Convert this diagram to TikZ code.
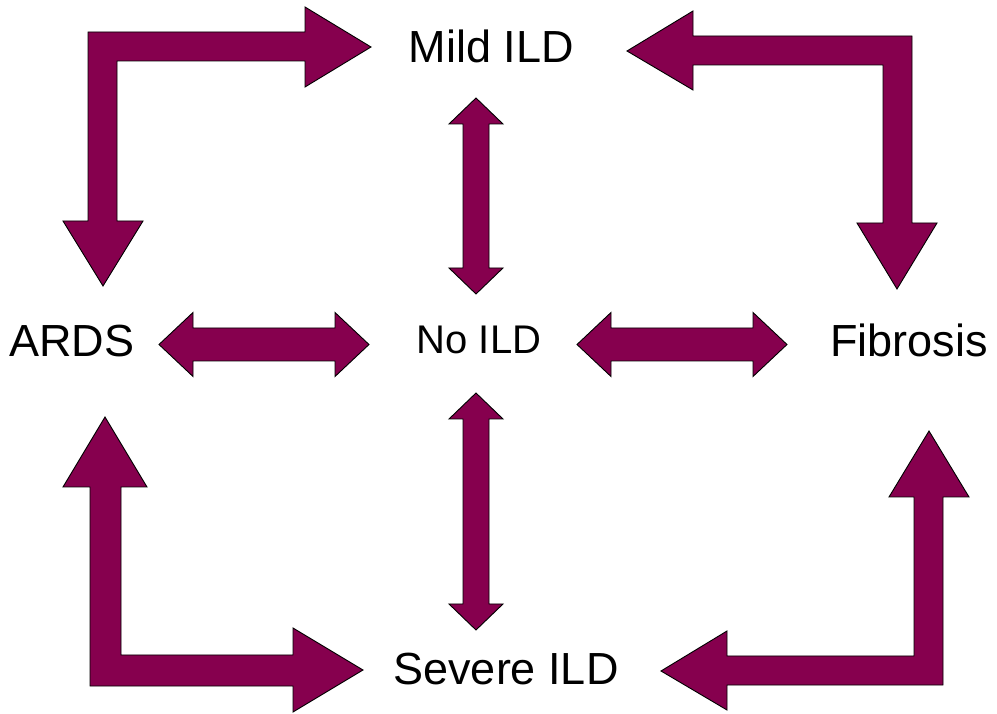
\documentclass[tikz,border=0pt]{standalone}
\usepackage{fontspec}
\setmainfont{Liberation Sans}
\usepackage{xcolor}
\usepackage{tikz}
\usetikzlibrary{calc}
\definecolor{ildred}{RGB}{134, 0, 78}

\tikzset{
  blockarrow/.style={fill=ildred, draw=black, line width=0.9pt, line join=miter},
  label/.style={inner sep=0pt, anchor=base, text=black},
}

\begin{document}
\begin{tikzpicture}[x=1pt, y=1pt]
        \useasboundingbox (0,0) rectangle (997,713);

        % States
        \node[label, font=\fontsize{45}{50}\selectfont] (mild) at (491.5,650) {Mild ILD};
        \node[label, font=\fontsize{45}{50}\selectfont] (severe) at (506,29) {Severe ILD};
        \node[label, font=\fontsize{45}{50}\selectfont] (ards) at (72,356) {ARDS};
        \node[label, font=\fontsize{45}{50}\selectfont] (fib) at (909,356) {Fibrosis};
        \node[label, font=\fontsize{40}{45}\selectfont] (noild) at (479,359) {No ILD};

        % Arrow tips
        \coordinate (ards-e) at (159,368.5);
        \coordinate (noild-w) at (369,368.5);
        \coordinate (noild-e) at (577,368.5);
        \coordinate (fib-w) at (787,368.5);
        \coordinate (mild-s) at (476,615);
        \coordinate (noild-n) at (476,419);
        \coordinate (noild-s) at (476,320);
        \coordinate (severe-n) at (476,83);

        % Horizontal double arrows
        \draw[blockarrow] (ards-e) -- ++(34,32) -- ++(0,-15.5) -- ($(noild-w)+(-34,16.5)$) -- ++(0,15.5) -- (noild-w)
              -- ++(-34,-32) -- ++(0,15.5) -- ($(ards-e)+(34,-16.5)$) -- ++(0,-15.5) -- cycle;
        \draw[blockarrow] (noild-e) -- ++(34,32) -- ++(0,-15.5) -- ($(fib-w)+(-34,16.5)$) -- ++(0,15.5) -- (fib-w)
              -- ++(-34,-32) -- ++(0,15.5) -- ($(noild-e)+(34,-16.5)$) -- ++(0,-15.5) -- cycle;

        % Vertical double arrows
        \draw[blockarrow] (mild-s) -- ++(27,-26) -- ++(-14,0) -- ($(noild-n)+(13,26)$) -- ++(14,0) -- (noild-n)
              -- ++(-27,26) -- ++(14,0) -- ($(mild-s)+(-13,-26)$) -- ++(-14,0) -- cycle;
        \draw[blockarrow] (noild-s) -- ++(27,-26) -- ++(-14,0) -- ($(severe-n)+(13,26)$) -- ++(14,0) -- (severe-n)
              -- ++(-27,26) -- ++(14,0) -- ($(noild-s)+(-13,-26)$) -- ++(-14,0) -- cycle;

        % Bent arrows (corners)
        \draw[blockarrow] (371,666) -- (305,706) -- (305,681) -- (88,681) -- (88,492) -- (63,492) -- (103,427)
              -- (143,492) -- (117,492) -- (117,652) -- (305,652) -- (305,626) -- cycle; % ARDS - Mild ILD
        \draw[blockarrow] (627,662) -- (693,702) -- (693,677) -- (912,677) -- (912,490) -- (937,490) -- (897,424)
              -- (857,490) -- (883,490) -- (883,648) -- (693,648) -- (693,623) -- cycle; % Mild ILD - Fibrosis
        \draw[blockarrow] (105,296) -- (147,226) -- (121,226) -- (121,58) -- (293,58) -- (293,85) -- (363,43)
              -- (293,1) -- (293,27) -- (90,27) -- (90,226) -- (63,226) -- cycle; % ARDS - Severe ILD
        \draw[blockarrow] (929,282) -- (969,216) -- (943,216) -- (943,28) -- (727,28) -- (727,3) -- (661,42)
              -- (727,82) -- (727,57) -- (914,57) -- (914,216) -- (889,216) -- cycle; % Fibrosis - Severe ILD
    \end{tikzpicture}
\end{document}
